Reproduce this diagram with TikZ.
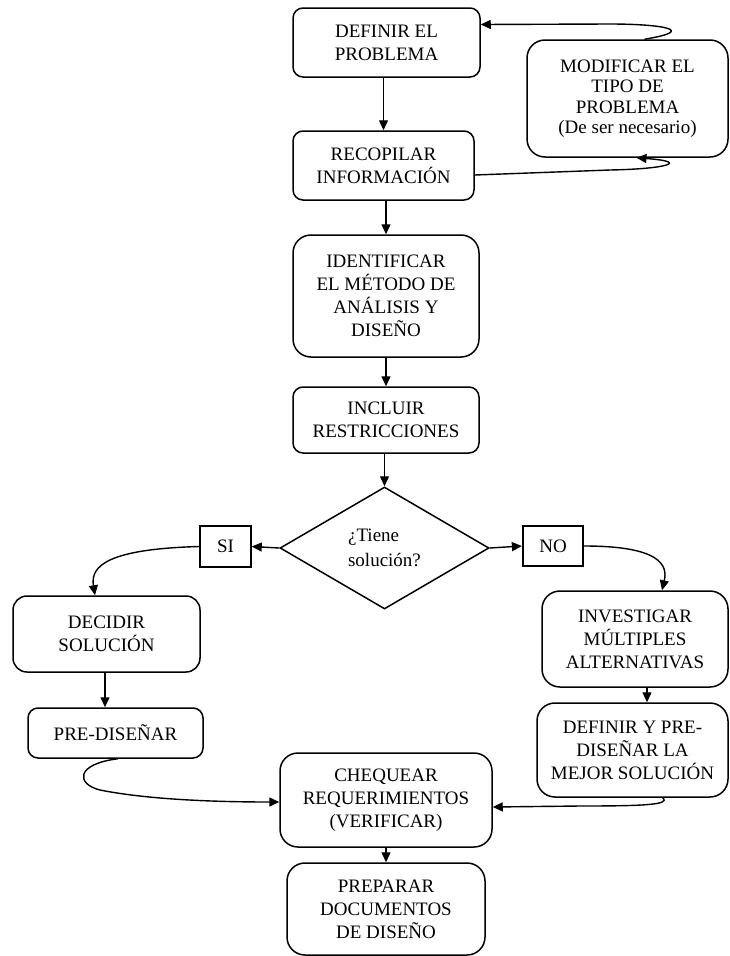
\documentclass[tikz,border=0pt]{standalone}
\usepackage{fontspec}
\setmainfont{Liberation Serif}
\usetikzlibrary{arrows.meta,shapes.geometric,calc}
\begin{document}
\begin{tikzpicture}[x=1pt,y=-1pt,
  txt/.style={font=\fontsize{19}{23}\selectfont},
  box/.style={txt,draw,line width=1.5pt,rounded corners=10pt,align=center,inner sep=0pt},
  bigbox/.style={box,rounded corners=18pt},
  sq/.style={txt,draw,line width=1.5pt,align=center,inner sep=0pt},
  conn/.style={line width=1.4pt,-{Triangle[length=10pt,width=9pt]}}]
\useasboundingbox (0,0) rectangle (730,956);
% nodes
\node[box,minimum width=187pt,minimum height=69pt] (def) at (386.5,42.5) {DEFINIR EL\\PROBLEMA};
\node[bigbox,minimum width=201pt,minimum height=117pt,font=\fontsize{19}{20.5}\selectfont] (mod) at (627.5,98.5) {MODIFICAR EL\\TIPO DE\\PROBLEMA\\(De ser necesario)};
\node[box,minimum width=181pt,minimum height=69pt] (rec) at (383.5,165.5) {RECOPILAR\\INFORMACIÓN};
\node[bigbox,minimum width=186pt,minimum height=122pt] (ide) at (386,296) {IDENTIFICAR\\EL MÉTODO DE\\ANÁLISIS Y\\DISEÑO};
\node[box,minimum width=186pt,minimum height=66pt] (inc) at (386,420) {INCLUIR\\RESTRICCIONES};
\node[draw,diamond,aspect=1.71,minimum width=209pt,minimum height=122pt,inner sep=0pt,line width=1.5pt,align=left,font=\fontsize{19}{25}\selectfont] (dia) at (384.5,548) {¿Tiene\\solución?};
\node[sq,minimum width=51pt,minimum height=41pt] (si) at (225.5,546.5) {SI};
\node[sq,line width=2.2pt,minimum width=60pt,minimum height=40pt] (no) at (553,546) {NO};
\node[box,minimum width=187pt,minimum height=76pt,rounded corners=14pt] (dec) at (106.5,634) {DECIDIR\\SOLUCIÓN};
\node[box,minimum width=175pt,minimum height=50pt] (pre) at (115.5,733) {PRE-DISEÑAR};
\node[bigbox,minimum width=186pt,minimum height=96pt] (inv) at (635,639) {INVESTIGAR\\MÚLTIPLES\\ALTERNATIVAS};
\node[bigbox,minimum width=191pt,minimum height=94pt] (dyp) at (632.5,750) {DEFINIR Y PRE-\\DISEÑAR LA\\MEJOR SOLUCIÓN};
\node[bigbox,minimum width=212pt,minimum height=94pt] (che) at (386,800) {CHEQUEAR\\REQUERIMIENTOS\\(VERIFICAR)};
\node[bigbox,minimum width=198pt,minimum height=92pt] (prep) at (386,909) {PREPARAR\\DOCUMENTOS\\DE DISEÑO};
% straight connectors
\draw[conn] (rec.north |- def.south) -- (rec.north);
\draw[conn] (ide.north |- rec.south) -- (ide.north);
\draw[conn] (ide.south) -- (ide.south |- inc.north);
\draw[conn] (inc.south -| dia.north) -- (dia.north);
\draw[conn] (dia.west) -- (si.east);
\draw[conn] (dia.east) -- (no.west);
\draw[conn] ([xshift=-1.5pt]dec.south) -- ([xshift=-1.5pt]dec.south |- pre.north);
\draw[conn] ([xshift=12pt]inv.south) -- ([xshift=12pt]inv.south |- dyp.north);
\draw[conn] (che.south) -- (che.south |- prep.north);
% curved connectors
\draw[conn] ([xshift=17pt]mod.north) .. controls (700,30) and (660,24) .. (610,24) -- ([yshift=18pt]def.east);
\draw[conn] ([yshift=-9.5pt]rec.east) -- (610,170) .. controls (665,169) and (692,162) .. ([xshift=9pt]mod.south);
\draw[conn] (si.west) .. controls (110,549) and (90,565) .. ([xshift=-11.5pt]dec.north);
\draw[conn] (no.east) .. controls (660,546) and (668,565) .. ([xshift=27pt]inv.north);
\draw[conn] ([xshift=2.5pt]pre.south) .. controls (75,764) and (76,784) .. (100,790) .. controls (150,800) and (220,802) .. ([yshift=-2pt]che.west);
\draw[conn] ([xshift=30pt]dyp.south) .. controls (672,805) and (640,806) .. (580,806) -- ([yshift=-7pt]che.east);
\end{tikzpicture}
\end{document}
